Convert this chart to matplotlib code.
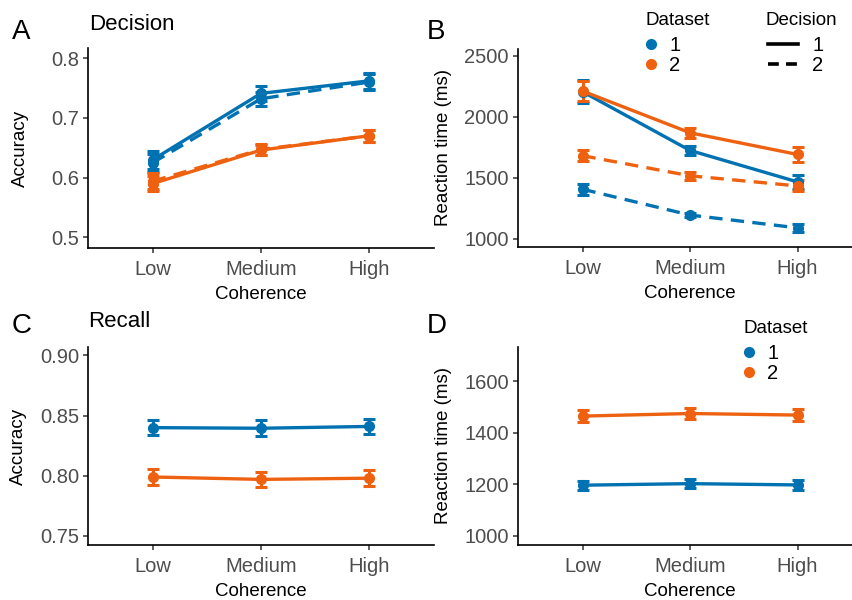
import numpy as np
import matplotlib
matplotlib.use('Agg')
import matplotlib.pyplot as plt
from matplotlib.lines import Line2D

plt.rcParams['font.family'] = ['Liberation Sans', 'DejaVu Sans']

levels = ['Low', 'Medium', 'High']
blue = '#0072B2'
orange = '#EE6110'

# Panel A: decision accuracy (dataset x decision)
accA_d1_dec1 = [0.630, 0.741, 0.762]
accA_d1_dec1_se = [0.015, 0.012, 0.013]
accA_d1_dec2 = [0.625, 0.732, 0.760]
accA_d1_dec2_se = [0.015, 0.012, 0.013]
accA_d2_dec1 = [0.590, 0.646, 0.670]
accA_d2_dec1_se = [0.013, 0.009, 0.010]
accA_d2_dec2 = [0.594, 0.647, 0.670]
accA_d2_dec2_se = [0.013, 0.009, 0.010]

# Panel B: decision RT
rtB_d1_dec1 = [2205, 1723, 1465]
rtB_d1_dec1_se = [95, 38, 60]
rtB_d2_dec1 = [2210, 1868, 1690]
rtB_d2_dec1_se = [85, 40, 58]
rtB_d1_dec2 = [1405, 1193, 1088]
rtB_d1_dec2_se = [45, 20, 35]
rtB_d2_dec2 = [1680, 1515, 1432]
rtB_d2_dec2_se = [45, 35, 45]

# Panel C: recall accuracy
accC_d1 = [0.840, 0.8395, 0.841]
accC_d1_se = [0.0065, 0.0065, 0.0065]
accC_d2 = [0.799, 0.797, 0.798]
accC_d2_se = [0.0065, 0.0065, 0.0065]

# Panel D: recall RT
rtD_d1 = [1197, 1203, 1198]
rtD_d1_se = [18, 18, 18]
rtD_d2 = [1465, 1475, 1469]
rtD_d2_se = [22, 22, 22]

W, H = 853, 600
fig = plt.figure(figsize=(W / 100, H / 100), dpi=100)


def add_ax(l, t, r, b):
    return fig.add_axes([l / W, 1 - b / H, (r - l) / W, (b - t) / H])


def style(ax, ylab, yticks, yfmt, ylim, ylpad):
    ax.set_xlim(0.4, 3.6)
    ax.set_ylim(*ylim)
    ax.set_xticks([1, 2, 3])
    ax.set_xticklabels(levels)
    ax.set_yticks(yticks)
    ax.set_yticklabels([yfmt.format(v) for v in yticks])
    for s in ['top', 'right']:
        ax.spines[s].set_visible(False)
    for s in ['left', 'bottom']:
        ax.spines[s].set_linewidth(1.2)
        ax.spines[s].set_color('black')
    ax.tick_params(length=3.5, width=1.1, color='#333333', labelcolor='#4D4D4D',
                   labelsize=14.5, pad=3)
    ax.tick_params(axis='x', pad=5)
    ax.set_xlabel('Coherence', fontsize=13.5, labelpad=5)
    ax.set_ylabel(ylab, fontsize=13.5, labelpad=ylpad)
    ax.patch.set_alpha(0)


def series(ax, y, e, c, ls='-'):
    x = np.arange(1, 4)
    ln = ax.errorbar(x, y, yerr=e, color=c, lw=2.4, ls=ls, marker='o', ms=7,
                     capsize=4, capthick=2.2, elinewidth=2.2)
    if ls == '--':
        ln[0].set_dashes((4, 2.5))


# A
axA = add_ax(88, 48, 434, 248)
series(axA, accA_d1_dec2, accA_d1_dec2_se, blue, '--')
series(axA, accA_d2_dec2, accA_d2_dec2_se, orange, '--')
series(axA, accA_d1_dec1, accA_d1_dec1_se, blue)
series(axA, accA_d2_dec1, accA_d2_dec1_se, orange)
style(axA, 'Accuracy', [0.5, 0.6, 0.7, 0.8], '{:.1f}', (0.482, 0.817), 16)

# B
axB = add_ax(518, 49, 862, 247)
series(axB, rtB_d1_dec1, rtB_d1_dec1_se, blue)
series(axB, rtB_d2_dec1, rtB_d2_dec1_se, orange)
series(axB, rtB_d1_dec2, rtB_d1_dec2_se, blue, '--')
series(axB, rtB_d2_dec2, rtB_d2_dec2_se, orange, '--')
style(axB, 'Reaction time (ms)', [1000, 1500, 2000, 2500], '{:d}', (931, 2555), 9)

# C
axC = add_ax(88, 347, 434, 545)
series(axC, accC_d1, accC_d1_se, blue)
series(axC, accC_d2, accC_d2_se, orange)
style(axC, 'Accuracy', [0.75, 0.80, 0.85, 0.90], '{:.2f}', (0.7425, 0.907), 9)

# D
axD = add_ax(518, 347, 862, 545)
series(axD, rtD_d1, rtD_d1_se, blue)
series(axD, rtD_d2, rtD_d2_se, orange)
style(axD, 'Reaction time (ms)', [1000, 1200, 1400, 1600], '{:d}', (965, 1733), 9)

# panel letters and titles
for lab, x, y in [('A', 12, 39), ('B', 427, 39), ('C', 12, 333), ('D', 427, 333)]:
    fig.text(x / W, 1 - y / H, lab, fontsize=20, va='baseline', ha='left')
fig.text(89 / W, 1 - 30 / H, 'Decision', fontsize=16, va='baseline', ha='left')
fig.text(88 / W, 1 - 327 / H, 'Recall', fontsize=16, va='baseline', ha='left')

# legends
ds_handles = [Line2D([], [], marker='o', ls='', color=blue, ms=7),
              Line2D([], [], marker='o', ls='', color=orange, ms=7)]
dec_handles = [Line2D([], [], color='black', lw=2.6),
               Line2D([], [], color='black', lw=2.6, dashes=(3, 2))]


def add_leg(handles, title, x, y, hl, htp, dx=-2):
    fig.text(x / W, 1 - y / H, title, fontsize=13.5, va='baseline', ha='left')
    leg = fig.legend(handles, ['1', '2'], loc='upper left',
                     bbox_to_anchor=((x + dx) / W, 1 - (y + 11) / H), frameon=False,
                     fontsize=14.5, borderpad=0, borderaxespad=0,
                     handlelength=hl, handletextpad=htp, labelspacing=0.05)
    return leg


add_leg(ds_handles, 'Dataset', 646, 25, 0.7, 0.55)
add_leg(dec_handles, 'Decision', 766, 25, 1.5, 0.7, dx=2)
add_leg(ds_handles, 'Dataset', 744, 333, 0.7, 0.55)

fig.savefig('out.png', dpi=100)
